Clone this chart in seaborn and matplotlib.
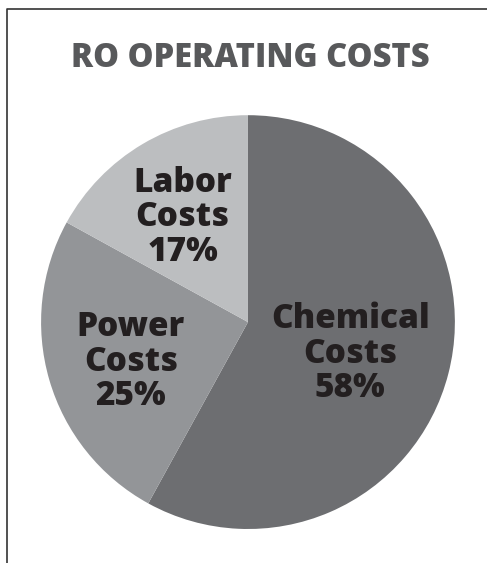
import matplotlib
matplotlib.use("Agg")
import matplotlib.pyplot as plt
import seaborn as sns
import numpy as np
from matplotlib.lines import Line2D

categories = ["Chemical\nCosts", "Power\nCosts", "Labor\nCosts"]
values = [58, 25, 17]
colors = ["#6d6e71", "#939598", "#bcbec0"]
title = "RO OPERATING COSTS"

sns.set_theme(style="white")
plt.rcParams['font.family'] = ['Open Sans', 'DejaVu Sans']

fig = plt.figure(figsize=(4.87, 5.63), dpi=100)
ax = fig.add_axes([0.0842, 0.0604, 0.850, 0.735])
wedges, _ = ax.pie(values, colors=colors, startangle=90, counterclock=False,
                   radius=1.0, wedgeprops=dict(linewidth=0))
ax.set_xlim(-1, 1)
ax.set_ylim(-1, 1)
ax.set_aspect('equal')
ax.axis('off')

label_r = [0.51, 0.59, 0.62]
for w, cat, v, r in zip(wedges, categories, values, label_r):
    ang = np.deg2rad((w.theta1 + w.theta2) / 2)
    ax.annotate(f"{cat}\n{v}%", (r * np.cos(ang), r * np.sin(ang)),
                xytext=(0, -4), textcoords='offset points',
                ha='center', va='center', fontsize=24, fontweight='heavy',
                color='#231f20', linespacing=1.02)

fig.text(250 / 487, 1 - 58 / 563, title, ha='center', va='center', fontsize=23.5,
         fontweight='heavy', color='#58595b')

x0 = 7 / 487
y0 = 1 - 9 / 563
fig.add_artist(Line2D([x0, x0, 1], [0, y0, y0], transform=fig.transFigure,
                      color='#333333', linewidth=1.2))

fig.savefig("out.png", dpi=100)
